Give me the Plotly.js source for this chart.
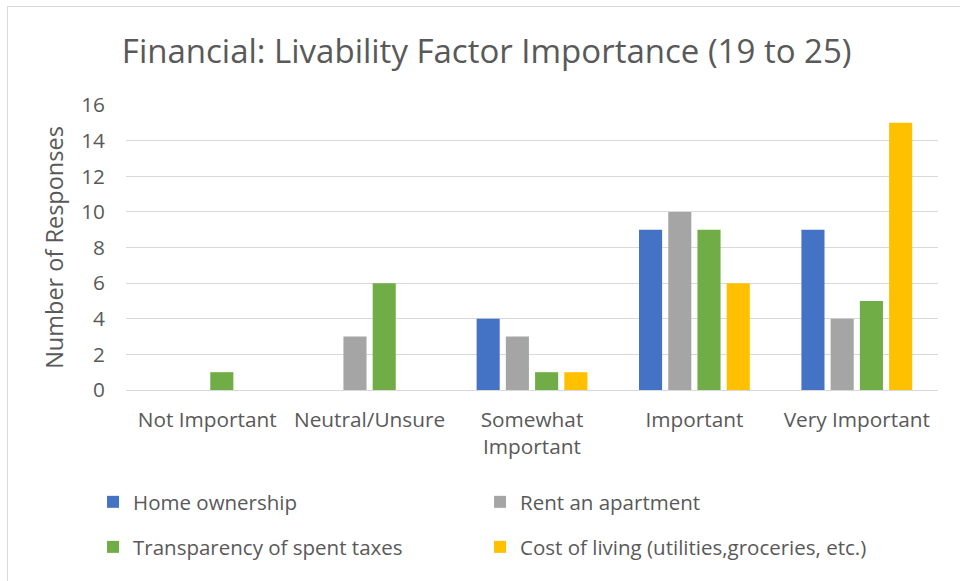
<!DOCTYPE html>
<html>
<head>
<meta charset="utf-8">
<script src="https://cdn.plot.ly/plotly-3.0.1.min.js"></script>
<style>
html,body{margin:0;padding:0;background:#fff;}
#wrap{position:relative;width:960px;height:581px;}
#chart{width:960px;height:581px;}
#frame{position:absolute;left:7px;top:6px;right:0;bottom:0;border-left:1px solid #d9d9d9;border-top:1px solid #d9d9d9;pointer-events:none;}
</style>
</head>
<body>
<div id="wrap"><div id="chart"></div><div id="frame"></div></div>
<script>
const categories = ["Not Important", "Neutral/Unsure", "Somewhat<br>Important", "Important", "Very Important"];
const seriesNames = ["Home ownership", "Rent an apartment", "Transparency of spent taxes", "Cost of living (utilities,groceries, etc.)"];
const homeOwnership = [0, 0, 4, 9, 9];
const rentApartment = [0, 3, 3, 10, 4];
const transparencyTaxes = [1, 6, 1, 9, 5];
const costOfLiving = [0, 0, 1, 6, 15];
const yTicks = [0, 2, 4, 6, 8, 10, 12, 14, 16];

const colors = ["#4472C4", "#A5A5A5", "#70AD47", "#FFC000"];
const values = [homeOwnership, rentApartment, transparencyTaxes, costOfLiving];
const legendIds = ["legend", "legend2", "legend3", "legend4"];
const FONT = '"Open Sans", sans-serif';

const traces = values.map((v, i) => ({
  type: "bar",
  name: seriesNames[i],
  x: categories,
  y: v,
  marker: {color: colors[i]},
  legend: legendIds[i],
  hoverinfo: "x+y+name"
}));

function leg(x, y) {
  return {
    orientation: "h",
    xanchor: "left",
    yanchor: "middle",
    x: x, y: y,
    itemwidth: 30,
    font: {family: FONT, size: 20.5, color: "#595959"},
    bgcolor: "rgba(0,0,0,0)"
  };
}

const layout = {
  width: 960,
  height: 581,
  margin: {l: 126, r: 22, t: 105, b: 191},
  paper_bgcolor: "#ffffff",
  plot_bgcolor: "#ffffff",
  font: {family: FONT, color: "#595959"},
  title: {
    text: "Financial: Livability Factor Importance (19 to 25)",
    font: {family: FONT, size: 33, color: "#595959"},
    x: 0.507, xanchor: "center",
    y: 0.911, yanchor: "middle"
  },
  barmode: "group",
  bargap: 0.28,
  bargroupgap: 0.21,
  xaxis: {
    type: "category",
    showgrid: false,
    showline: true,
    linecolor: "#d9d9d9",
    linewidth: 1,
    ticks: "",
    ticklabelstandoff: 11,
    tickfont: {family: FONT, size: 20.8, color: "#595959"}
  },
  yaxis: {
    range: [0, 16],
    tickvals: yTicks,
    showgrid: true,
    gridcolor: "#d9d9d9",
    gridwidth: 1,
    zeroline: false,
    showline: false,
    ticks: "",
    ticklabelstandoff: 20,
    tickfont: {family: FONT, size: 20.8, color: "#595959"},
    title: {
      text: "Number of Responses",
      font: {family: FONT, size: 23.5, color: "#595959"},
      standoff: 10
    }
  },
  legend: leg(-0.0406, -0.393),
  legend2: leg(0.436, -0.393),
  legend3: leg(-0.0406, -0.551),
  legend4: leg(0.436, -0.551),
  showlegend: true
};

Plotly.newPlot("chart", traces, layout, {displayModeBar: false, responsive: false});
</script>
</body>
</html>
